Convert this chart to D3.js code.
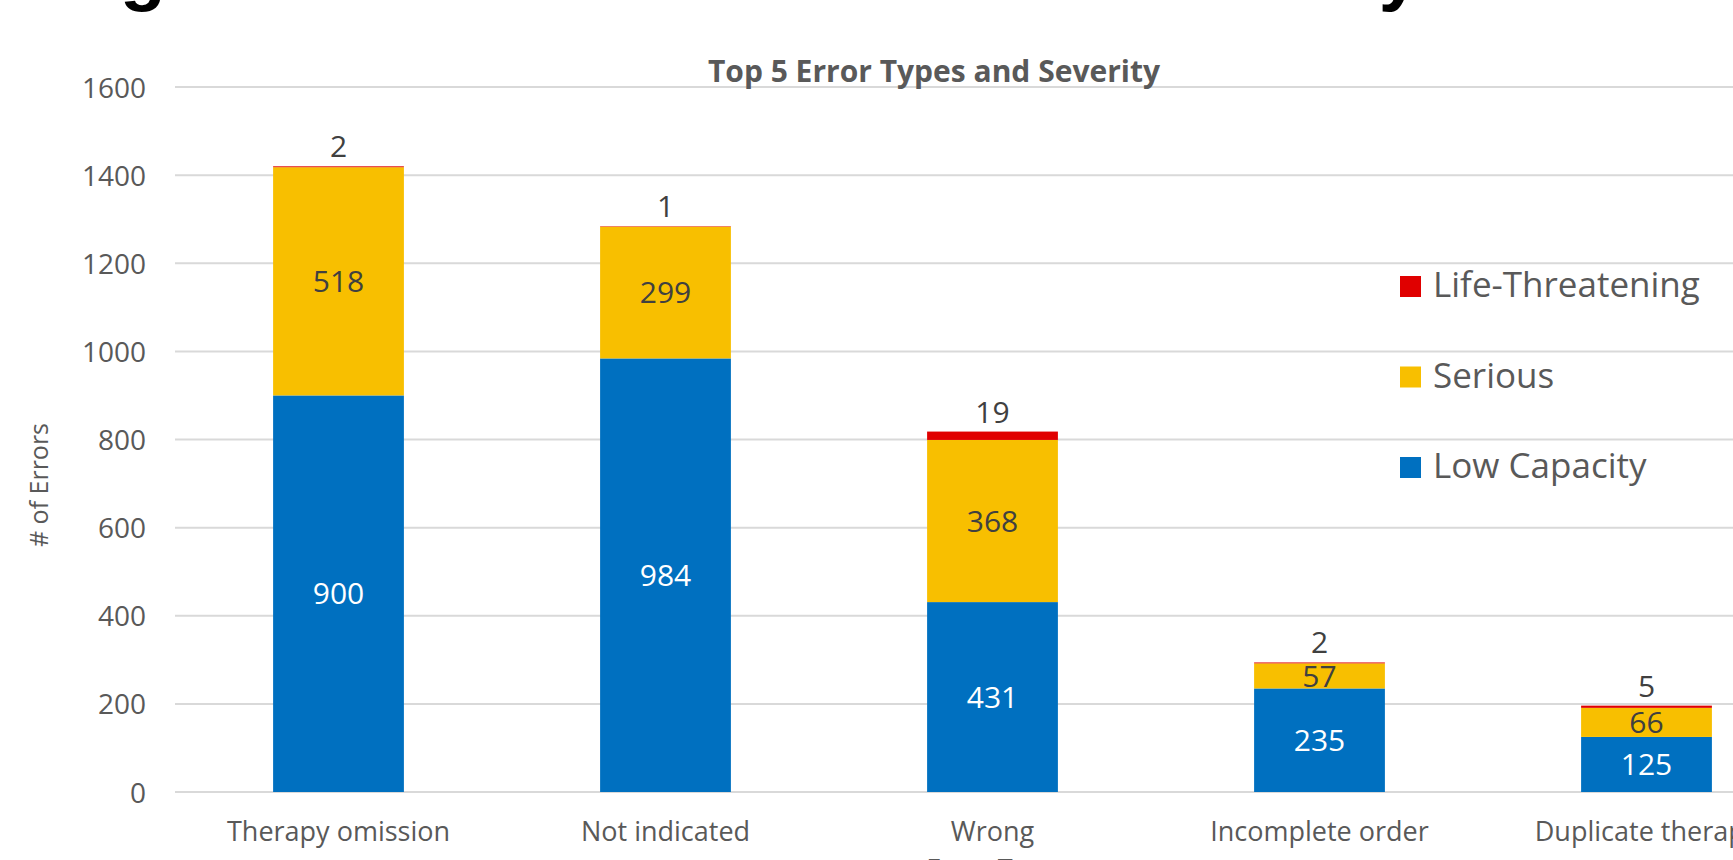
<!DOCTYPE html>
<html>
<head>
<meta charset="utf-8">
<script src="https://cdn.jsdelivr.net/npm/d3@7"></script>
<style>
  html, body { margin: 0; padding: 0; background: #ffffff; }
  svg { display: block; }
  text { font-family: "Open Sans", "Liberation Sans", sans-serif; }
</style>
</head>
<body>
<svg id="chart" width="1733" height="860"></svg>
<script>
// Error categories along the x axis
const categories = ["Therapy omission", "Not indicated", "Wrong", "Incomplete order", "Duplicate therapy"];

// Counts per severity level, one value per category
const lowCapacity     = [900, 984, 431, 235, 125];
const serious         = [518, 299, 368, 57, 66];
const lifeThreatening = [2, 1, 19, 2, 5];

const seriesNames  = ["Low Capacity", "Serious", "Life-Threatening"];
const seriesColors = ["#0070C0", "#F8BF00", "#E00000"];
const labelColors  = ["#FFFFFF", "#404040", "#404040"];

const yTicks = [0, 200, 400, 600, 800, 1000, 1200, 1400, 1600];

const chartTitle   = "Top 5 Error Types and Severity";
const yAxisTitle   = "# of Errors";
const xAxisTitle   = "Error Type";
const slideHeading = "Highest Error Rates and Their Severity";

const W = 1733, H = 860;
const svg = d3.select("#chart");

// Rows for the stack layout
const rows = categories.map((c, i) => ({
  category: c,
  "Low Capacity": lowCapacity[i],
  "Serious": serious[i],
  "Life-Threatening": lifeThreatening[i]
}));
const stacked = d3.stack().keys(seriesNames)(rows);

const x = d3.scaleBand()
  .domain(categories)
  .range([175, 1810])
  .paddingInner(0.6)
  .paddingOuter(0.3);

const y = d3.scaleLinear()
  .domain([0, 1600])
  .range([792, 87]);

// Slide heading running off the top edge
svg.append("text")
  .attr("x", 45)
  .attr("y", -3)
  .attr("font-weight", "bold")
  .attr("font-size", 75)
  .attr("fill", "#000000")
  .style("font-family", "'Liberation Sans', Arial, sans-serif")
  .text(slideHeading);

// Horizontal gridlines
svg.append("g")
  .attr("class", "grid")
  .selectAll("line")
  .data(yTicks)
  .join("line")
  .attr("x1", 175)
  .attr("x2", W)
  .attr("y1", d => y(d))
  .attr("y2", d => y(d))
  .attr("stroke", "#D9D9D9")
  .attr("stroke-width", 2);

// Y axis tick labels
const yAxis = d3.axisLeft(y)
  .tickValues(yTicks)
  .tickFormat(d3.format("d"))
  .tickSize(0)
  .tickPadding(0);
const yG = svg.append("g")
  .attr("transform", "translate(146,0)")
  .call(yAxis);
yG.select(".domain").remove();
yG.selectAll("text")
  .attr("font-size", 28)
  .attr("fill", "#595959")
  .attr("dy", null)
  .attr("y", 10)
  .style("font-family", "'Open Sans', sans-serif");

// Y axis title
svg.append("text")
  .attr("transform", "translate(48,485) rotate(-90)")
  .attr("text-anchor", "middle")
  .attr("font-size", 25)
  .attr("fill", "#595959")
  .text(yAxisTitle);

// Stacked bars
const layers = svg.append("g").attr("class", "bars")
  .selectAll("g")
  .data(stacked)
  .join("g")
  .attr("fill", (d, i) => seriesColors[i]);

layers.selectAll("rect")
  .data(d => d.map(s => ({ s, cat: s.data.category })))
  .join("rect")
  .attr("x", d => x(d.cat))
  .attr("width", x.bandwidth())
  .attr("y", d => y(d.s[1]))
  .attr("height", d => y(d.s[0]) - y(d.s[1]));

// Category labels under the bars
const xAxis = d3.axisBottom(x).tickSize(0).tickPadding(0);
const xG = svg.append("g").call(xAxis);
xG.select(".domain").remove();
xG.selectAll("text")
  .attr("font-size", 27)
  .attr("fill", "#595959")
  .attr("dy", null)
  .attr("y", 841)
  .style("font-family", "'Open Sans', sans-serif");

// Value labels: centred in the blue and yellow segments, above the bar for the red one
const capHalf = 0.357 * 30;
stacked.forEach((layer, li) => {
  svg.append("g")
    .attr("class", "labels-" + li)
    .selectAll("text")
    .data(layer)
    .join("text")
    .attr("x", d => x(d.data.category) + x.bandwidth() / 2)
    .attr("y", d => li === 2
      ? y(d[1]) - 9
      : (y(d[0]) + y(d[1])) / 2 + capHalf)
    .attr("text-anchor", "middle")
    .attr("font-size", 30)
    .attr("fill", labelColors[li])
    .text(d => d[1] - d[0]);
});

// Chart title
svg.append("text")
  .attr("x", 934)
  .attr("y", 82)
  .attr("text-anchor", "middle")
  .attr("font-size", 30)
  .attr("font-weight", "bold")
  .attr("fill", "#595959")
  .text(chartTitle);

// Legend, listed top to bottom in stacking order from the top
const legendItems = seriesNames.map((n, i) => ({ name: n, color: seriesColors[i] })).reverse();
const legend = svg.append("g")
  .attr("class", "legend")
  .selectAll("g")
  .data(legendItems)
  .join("g")
  .attr("transform", (d, i) => `translate(1400,${276 + i * 90.5})`);
legend.append("rect")
  .attr("width", 21)
  .attr("height", 21)
  .attr("fill", d => d.color);
legend.append("text")
  .attr("x", 33)
  .attr("y", 21)
  .attr("font-size", 35)
  .attr("fill", "#595959")
  .text(d => d.name);

// X axis title, mostly below the bottom edge
svg.append("text")
  .attr("x", 992)
  .attr("y", 879)
  .attr("text-anchor", "middle")
  .attr("font-size", 27)
  .attr("fill", "#595959")
  .text(xAxisTitle);
</script>
</body>
</html>
